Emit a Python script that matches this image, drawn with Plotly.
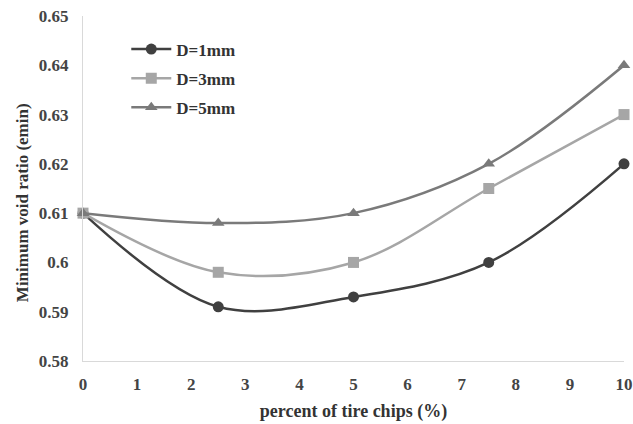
import plotly.graph_objects as go

x_vals = [0, 2.5, 5, 7.5, 10]
d1 = [0.61, 0.591, 0.593, 0.600, 0.620]
d3 = [0.61, 0.598, 0.600, 0.615, 0.630]
d5 = [0.61, 0.608, 0.610, 0.620, 0.640]
names = ["D=1mm", "D=3mm", "D=5mm"]
colors = ["#404040", "#a6a6a6", "#7a7a7a"]
symbols = ["circle", "square", "triangle-up"]

fig = go.Figure()
for ys, nm, c, s in zip([d1, d3, d5], names, colors, symbols):
    fig.add_trace(go.Scatter(x=x_vals, y=ys, name="<b>" + nm + "</b>", legendgroup=nm,
                             mode="lines+markers", cliponaxis=False,
                             line=dict(color=c, width=2.5, shape="spline", smoothing=1.0),
                             marker=dict(symbol=s, size=11, color=c)))

fig.update_layout(
    width=633, height=424,
    margin=dict(l=83, r=9, t=16, b=63),
    paper_bgcolor="white", plot_bgcolor="white",
    font=dict(family="Liberation Serif, Times New Roman, serif", size=17, color="#404040"),
    showlegend=True,
    legend=dict(x=0.08, y=0.955, xanchor="left", yanchor="top",
                bgcolor="rgba(0,0,0,0)", font=dict(size=17, color="#333333"),
                itemwidth=40, tracegroupgap=4),
    xaxis=dict(range=[0, 10], tick0=0, dtick=1, showgrid=False, zeroline=False,
               showline=True, linecolor="#d9d9d9", linewidth=1, ticks="", automargin=False,
               ticklabelstandoff=8,
               tickfont=dict(size=17, color="#444444"),
               title=dict(text="<b>percent of tire chips (%)</b>", font=dict(size=18, color="#333333"), standoff=10)),
    yaxis=dict(range=[0.58, 0.65], dtick=0.01, showgrid=False, zeroline=False,
               showline=True, linecolor="#d9d9d9", linewidth=1, ticks="", automargin=False,
               ticklabelstandoff=10,
               tickfont=dict(size=17, color="#444444")),
    annotations=[dict(text="<b>Minimum void ratio (emin)</b>", textangle=-90,
                      xref="paper", yref="paper", x=-0.113, y=0.46,
                      xanchor="center", yanchor="middle", showarrow=False,
                      font=dict(size=17, color="#333333"))],
)
fig.update_xaxes(tickprefix="<b>", ticksuffix="</b>")
fig.update_yaxes(tickprefix="<b>", ticksuffix="</b>")
fig.write_html("out.html", config={"displayModeBar": False},
               post_script="document.body.style.margin='0px';")
